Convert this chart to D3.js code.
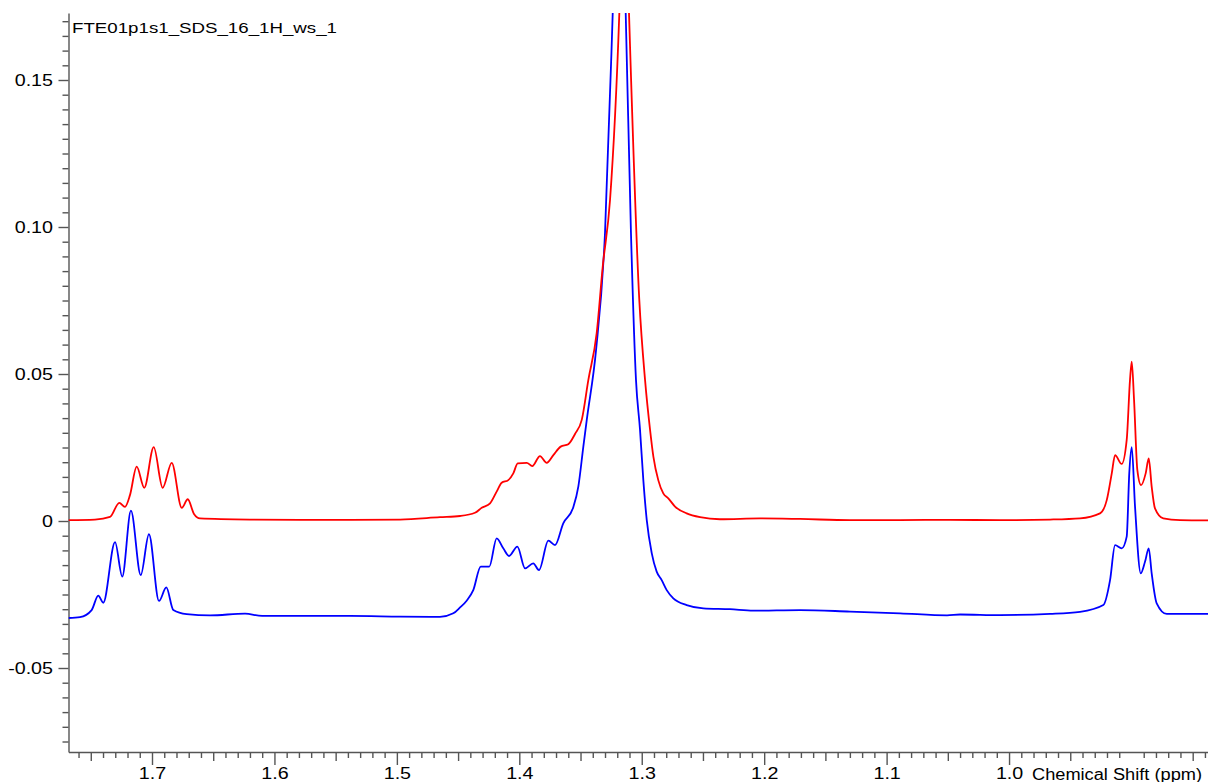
<!DOCTYPE html>
<html>
<head>
<meta charset="utf-8">
<script src="https://cdn.jsdelivr.net/npm/d3@7"></script>
<style>
    body { margin: 0; background: #fff; }
    svg { display: block; font-family: "Liberation Sans", Arial, sans-serif; }
</style>
</head>
<body>
<svg id="nmrGraph" width="1208" height="782"></svg>
<script>
    'use strict';

    const title = 'FTE01p1s1_SDS_16_1H_ws_1';
    const xAxisTitle = 'Chemical Shift (ppm)';

    const xTicks = [1.7, 1.6, 1.5, 1.4, 1.3, 1.2, 1.1, 1.0];
    const xTickLabels = ['1.7', '1.6', '1.5', '1.4', '1.3', '1.2', '1.1', '1.0'];
    const yTicks = [-0.05, 0, 0.05, 0.10, 0.15];
    const yTickLabels = ['-0.05', '0', '0.05', '0.10', '0.15'];

    // red trace (upper)
    const redShift = [1.7682, 1.7466, 1.7343, 1.7267, 1.7221, 1.7180, 1.7125, 1.7063, 1.6986, 1.6913,
        1.6839, 1.6757, 1.6708, 1.6657, 1.6608, 1.6200, 1.5791, 1.5383, 1.4974, 1.4648,
        1.4484, 1.4362, 1.4307, 1.4239, 1.4185, 1.4144, 1.4090, 1.4049, 1.4013, 1.3939,
        1.3894, 1.3831, 1.3776, 1.3722, 1.3662, 1.3600, 1.3545, 1.3490, 1.3436, 1.3368,
        1.3319, 1.3259, 1.3183, 1.3143, 1.3104, 1.3020, 1.2973, 1.2932, 1.2905, 1.2865,
        1.2824, 1.2783, 1.2728, 1.2633, 1.2524, 1.2361, 1.2034, 1.1707, 1.1299, 1.0890,
        1.0482, 1.0074, 0.9665, 0.9420, 0.9257, 0.9202, 0.9161, 0.9134, 0.9080, 0.9039,
        0.9012, 0.8998, 0.8979, 0.8952, 0.8922, 0.8884, 0.8859, 0.8835, 0.8808, 0.8740,
        0.8603, 0.8375];
    const redInt = [0.0003, 0.0005, 0.0014, 0.0062, 0.0048, 0.0088, 0.0185, 0.0113, 0.0251, 0.0113,
        0.0198, 0.0045, 0.0074, 0.0024, 0.0009, 0.0005, 0.0004, 0.0004, 0.0005, 0.0013,
        0.0017, 0.0028, 0.0045, 0.0060, 0.0100, 0.0130, 0.0139, 0.0162, 0.0196, 0.0198,
        0.0187, 0.0221, 0.0198, 0.0224, 0.0253, 0.0261, 0.0296, 0.0344, 0.0480, 0.0639,
        0.0864, 0.1092, 0.1728, 0.2282, 0.1728, 0.0752, 0.0480, 0.0310, 0.0219, 0.0139,
        0.0094, 0.0077, 0.0049, 0.0026, 0.0013, 0.0006, 0.0009, 0.0007, 0.0003, 0.0003,
        0.0004, 0.0003, 0.0005, 0.0009, 0.0026, 0.0071, 0.0162, 0.0224, 0.0194, 0.0276,
        0.0480, 0.0542, 0.0412, 0.0173, 0.0122, 0.0162, 0.0213, 0.0117, 0.0043, 0.0009,
        0.0003, 0.0002];

    // blue trace (lower)
    const blueShift = [1.7682, 1.7588, 1.7493, 1.7439, 1.7398, 1.7302, 1.7243, 1.7172, 1.7092, 1.7025,
        1.6943, 1.6883, 1.6826, 1.6717, 1.6526, 1.6240, 1.6100, 1.5791, 1.5383, 1.4974,
        1.4648, 1.4539, 1.4484, 1.4430, 1.4376, 1.4315, 1.4245, 1.4185, 1.4131, 1.4084,
        1.4016, 1.3953, 1.3886, 1.3839, 1.3763, 1.3708, 1.3641, 1.3559, 1.3518, 1.3477,
        1.3449, 1.3373, 1.3300, 1.3237, 1.3184, 1.3131, 1.3088, 1.3047, 1.3014, 1.2987,
        1.2959, 1.2918, 1.2878, 1.2837, 1.2796, 1.2742, 1.2633, 1.2497, 1.2279, 1.2089,
        1.1707, 1.1299, 1.0890, 1.0506, 1.0400, 1.0074, 0.9665, 0.9420, 0.9230, 0.9175,
        0.9134, 0.9080, 0.9039, 0.9018, 0.8998, 0.8971, 0.8924, 0.8889, 0.8859, 0.8835,
        0.8794, 0.8712, 0.8375];
    const blueInt = [-0.0330, -0.0327, -0.0303, -0.0254, -0.0278, -0.0072, -0.0189, 0.0035, -0.0184, -0.0045,
        -0.0272, -0.0226, -0.0303, -0.0317, -0.0321, -0.0315, -0.0323, -0.0323, -0.0323, -0.0325,
        -0.0326, -0.0314, -0.0294, -0.0271, -0.0235, -0.0155, -0.0155, -0.0059, -0.0093, -0.0119,
        -0.0087, -0.0161, -0.0144, -0.0167, -0.0067, -0.0082, -0.0008, 0.0047, 0.0117, 0.0253,
        0.0344, 0.0582, 0.0980, 0.1728, 0.2452, 0.1728, 0.0980, 0.0480, 0.0310, 0.0139,
        0.0003, -0.0110, -0.0172, -0.0201, -0.0235, -0.0263, -0.0286, -0.0297, -0.0300, -0.0305,
        -0.0303, -0.0308, -0.0314, -0.0321, -0.0318, -0.0320, -0.0316, -0.0309, -0.0286, -0.0201,
        -0.0082, -0.0093, -0.0053, 0.0162, 0.0251, 0.0049, -0.0178, -0.0138, -0.0093, -0.0178,
        -0.0280, -0.0316, -0.0316];

    const plot = {
        'left': 68.5,
        'right': 1208,
        'top': 13,
        'bottom': 752
    };
    const stretch = 1.23; // text in the reference is drawn wide
    const axisColor = '#555';

    let x = d3.scaleLinear()
        .domain([1.7682, 0.8375])
        .range([plot.left, plot.right]);

    let y = d3.scaleLinear()
        .domain([-0.07857, 0.17279])
        .range([plot.bottom, plot.top]);

    let svg = d3.select('#nmrGraph');

    svg.append('defs')
        .append('clipPath')
            .attr('id', 'plotClip')
        .append('rect')
            .attr('x', plot.left)
            .attr('y', plot.top)
            .attr('width', plot.right - plot.left)
            .attr('height', plot.bottom - plot.top);

    // minor ticks first, then the labelled axes on top
    let xMinor = d3.range(84, 177).map((d) => d / 100).filter((d) => Math.round(d * 100) % 5 !== 0);
    let xMid = d3.range(17, 36).map((d) => d / 20).filter((d) => Math.round(d * 20) % 2 !== 0);
    let yMinor = d3.range(-15, 35).map((d) => d / 200).filter((d) => Math.abs(Math.round(d * 200)) % 10 !== 0);

    svg.append('g')
        .attr('class', 'axis-x-minor')
        .attr('transform', `translate(0, ${plot.bottom})`)
        .call(d3.axisBottom(x).tickValues(xMinor).tickSize(6).tickFormat(''));

    svg.append('g')
        .attr('class', 'axis-x-mid')
        .attr('transform', `translate(0, ${plot.bottom})`)
        .call(d3.axisBottom(x).tickValues(xMid).tickSize(9).tickFormat(''));

    let xAxis = svg.append('g')
        .attr('class', 'axis-x')
        .attr('transform', `translate(0, ${plot.bottom})`)
        .call(d3.axisBottom(x)
            .tickValues(xTicks)
            .tickSize(13)
            .tickSizeOuter(0)
            .tickFormat((d, i) => xTickLabels[i]));

    xAxis.selectAll('text')
        .attr('y', 27.5)
        .attr('dy', 0)
        .attr('transform', `scale(${stretch}, 1)`);

    svg.append('g')
        .attr('class', 'axis-y-minor')
        .attr('transform', `translate(${plot.left}, 0)`)
        .call(d3.axisLeft(y).tickValues(yMinor).tickSize(6).tickFormat(''));

    let yAxis = svg.append('g')
        .attr('class', 'axis-y')
        .attr('transform', `translate(${plot.left}, 0)`)
        .call(d3.axisLeft(y)
            .tickValues(yTicks)
            .tickSize(10)
            .tickSizeOuter(0)
            .tickFormat((d, i) => yTickLabels[i]));

    yAxis.selectAll('text')
        .attr('x', -15.5 / stretch)
        .attr('dy', '0.34em')
        .attr('transform', `scale(${stretch}, 1)`);

    svg.selectAll('.domain, .tick line')
        .attr('stroke', axisColor)
        .attr('stroke-width', 1.4);

    svg.selectAll('.axis-x-minor .domain, .axis-x-mid .domain, .axis-y-minor .domain')
        .remove();

    svg.selectAll('.tick text')
        .attr('fill', '#000')
        .attr('font-size', 16)
        .attr('font-family', '"Liberation Sans", Arial, sans-serif');

    // spectra
    let line = d3.line()
        .x((d) => x(d[0]))
        .y((d) => y(d[1]))
        .curve(d3.curveMonotoneX);

    let traces = [
        { 'color': '#0000ff', 'data': blueShift.map((s, i) => [s, blueInt[i]]) },
        { 'color': '#ff0000', 'data': redShift.map((s, i) => [s, redInt[i]]) }
    ];

    svg.append('g')
        .attr('clip-path', 'url(#plotClip)')
        .selectAll('.trace')
        .data(traces)
        .enter().append('path')
            .attr('class', 'trace')
            .attr('fill', 'none')
            .attr('stroke', (d) => d.color)
            .attr('stroke-width', 1.8)
            .attr('stroke-linejoin', 'round')
            .attr('d', (d) => line(d.data));

    svg.append('text')
        .attr('x', 72)
        .attr('y', 33)
        .attr('font-size', 15.5)
        .attr('textLength', 265)
        .attr('lengthAdjust', 'spacingAndGlyphs')
        .text(title);

    svg.append('text')
        .attr('x', 1032)
        .attr('y', plot.bottom + 27.5)
        .attr('font-size', 16)
        .attr('textLength', 170)
        .attr('lengthAdjust', 'spacingAndGlyphs')
        .text(xAxisTitle);
</script>
</body>
</html>
